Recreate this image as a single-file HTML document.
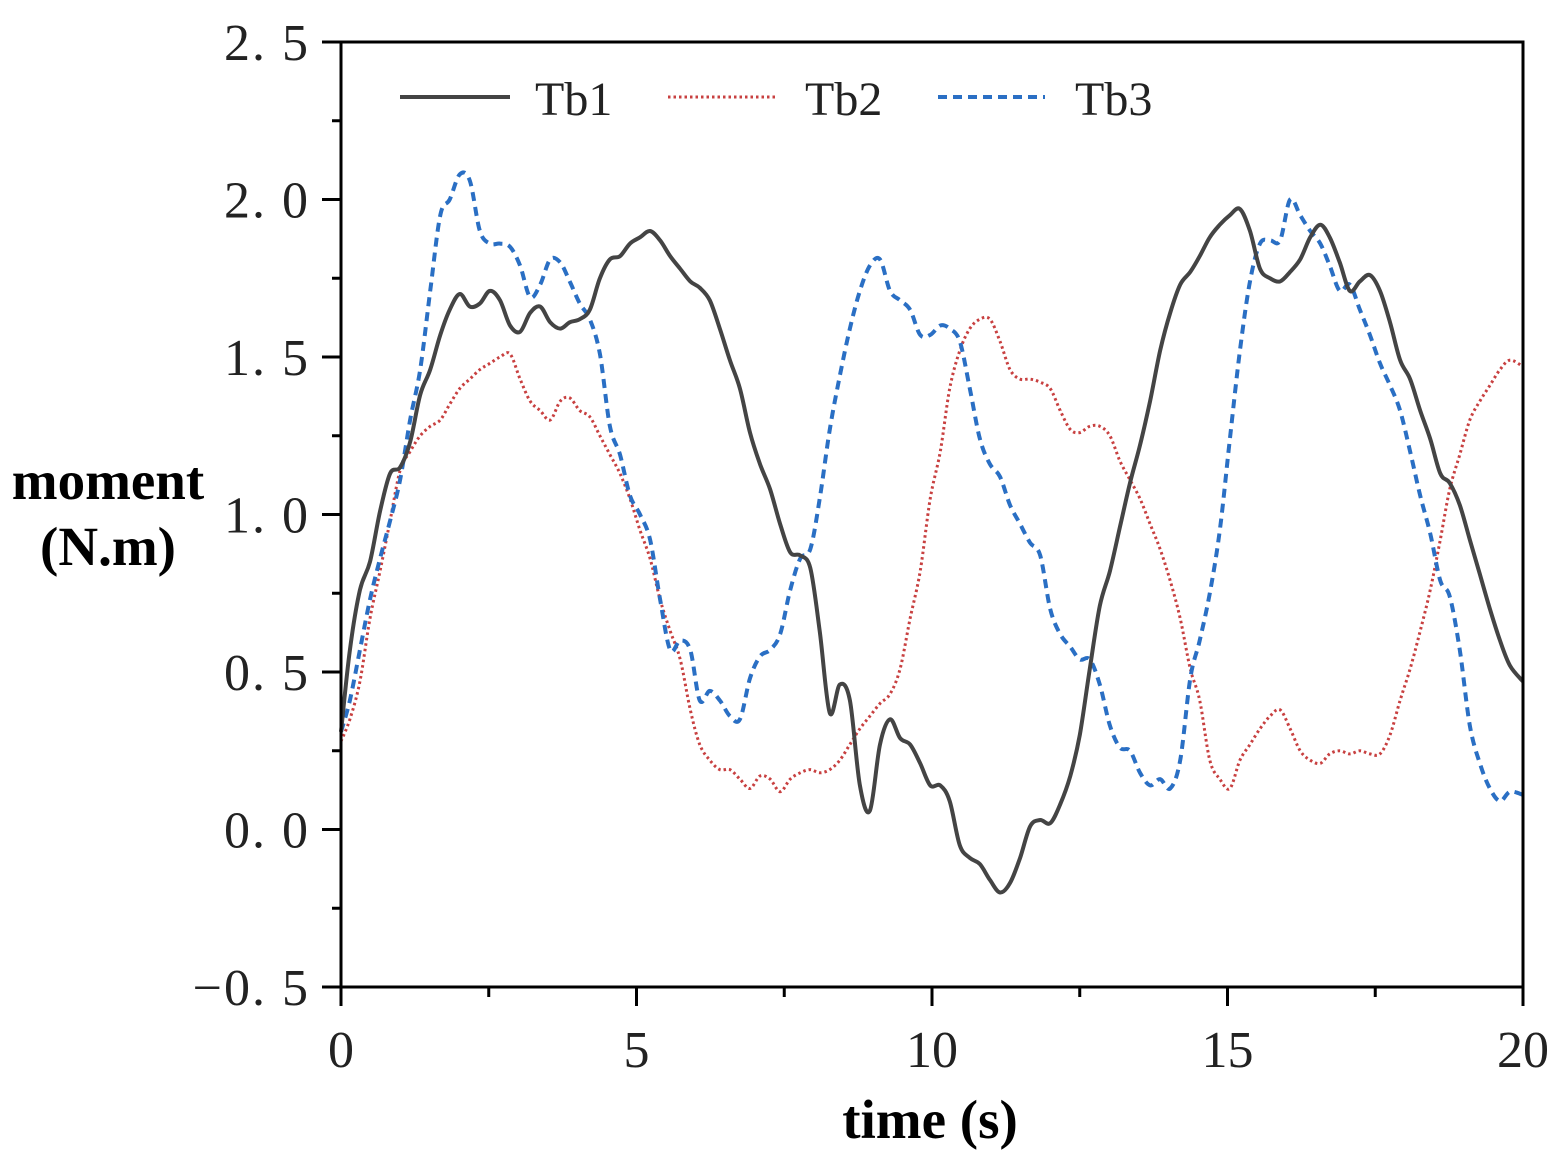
<!DOCTYPE html>
<html><head><meta charset="utf-8"><style>
html,body{margin:0;padding:0;background:#fff;}
svg{display:block;}
.tick{font-family:"Liberation Serif","Noto Serif CJK SC",serif;font-size:52px;fill:#222;}
.ytick{letter-spacing:2px;}
.leg{font-family:"Liberation Serif","Noto Serif CJK SC",serif;font-size:48px;fill:#222;}
.title{font-family:"Liberation Serif",serif;font-size:55px;font-weight:bold;fill:#000;}
</style></head><body>
<svg id="chart" width="1562" height="1164" viewBox="0 0 1562 1164" xmlns="http://www.w3.org/2000/svg">
<g id="plot"></g>
<g id="axes"></g>
<text class="title" x="108" y="499" text-anchor="middle">moment</text>
<text class="title" x="108" y="565" text-anchor="middle">(N.m)</text>
<text class="title" x="930" y="1138" text-anchor="middle">time (s)</text>
<g>
<line x1="400" y1="97" x2="510" y2="97" stroke="#444" stroke-width="4"/>
<text class="leg" x="535" y="115">Tb1</text>
<line x1="668" y1="97" x2="778" y2="97" stroke="#c84040" stroke-width="3" stroke-dasharray="2.5,3"/>
<text class="leg" x="805" y="115">Tb2</text>
<line x1="938" y1="97" x2="1045" y2="97" stroke="#2a6fc4" stroke-width="4" stroke-dasharray="9,6"/>
<text class="leg" x="1075" y="115">Tb3</text>
</g>
</svg>
<script>
const times=[0,0.15,0.32,0.49,0.66,0.83,1.00,1.17,1.34,1.51,1.68,1.84,2.01,2.18,2.35,2.52,2.69,2.86,3.03,3.20,3.37,3.54,3.71,3.87,4.04,4.21,4.38,4.55,4.72,4.89,5.06,5.23,5.40,5.57,5.74,5.91,6.07,6.24,6.41,6.58,6.75,6.92,7.09,7.26,7.43,7.60,7.77,7.94,8.10,8.27,8.44,8.61,8.78,8.95,9.12,9.29,9.46,9.63,9.80,9.97,10.14,10.30,10.47,10.64,10.81,10.98,11.15,11.32,11.49,11.66,11.83,12.00,12.17,12.34,12.50,12.67,12.84,13.01,13.18,13.35,13.52,13.69,13.86,14.03,14.20,14.37,14.53,14.70,14.87,15.04,15.21,15.38,15.55,15.72,15.89,16.06,16.23,16.40,16.57,16.73,16.90,17.07,17.24,17.41,17.58,17.75,17.92,18.09,18.26,18.43,18.60,18.76,18.93,19.10,19.27,19.44,19.61,19.78,20];
const tb1=[0.31,0.57,0.76,0.85,1.01,1.13,1.15,1.23,1.38,1.46,1.57,1.65,1.70,1.66,1.67,1.71,1.68,1.60,1.58,1.64,1.66,1.61,1.59,1.61,1.62,1.65,1.75,1.81,1.82,1.86,1.88,1.90,1.87,1.82,1.78,1.74,1.72,1.68,1.59,1.49,1.40,1.26,1.16,1.08,0.97,0.88,0.87,0.83,0.63,0.37,0.46,0.41,0.14,0.06,0.27,0.35,0.29,0.27,0.21,0.14,0.14,0.09,-0.05,-0.09,-0.11,-0.16,-0.20,-0.17,-0.09,0.01,0.03,0.02,0.08,0.17,0.30,0.51,0.71,0.82,0.96,1.10,1.22,1.36,1.52,1.64,1.73,1.77,1.82,1.88,1.92,1.95,1.97,1.90,1.78,1.75,1.74,1.77,1.81,1.88,1.92,1.88,1.80,1.71,1.74,1.76,1.71,1.61,1.49,1.43,1.33,1.24,1.13,1.10,1.03,0.92,0.81,0.70,0.60,0.52,0.47];
const tb2=[0.28,0.35,0.47,0.67,0.82,0.98,1.14,1.20,1.25,1.28,1.30,1.35,1.40,1.43,1.46,1.48,1.50,1.51,1.43,1.36,1.33,1.30,1.36,1.37,1.33,1.31,1.25,1.19,1.13,1.05,0.95,0.86,0.73,0.63,0.54,0.38,0.27,0.22,0.19,0.19,0.16,0.13,0.17,0.16,0.12,0.16,0.18,0.19,0.18,0.19,0.22,0.27,0.32,0.36,0.40,0.43,0.51,0.67,0.82,1.05,1.20,1.40,1.52,1.59,1.62,1.62,1.55,1.46,1.43,1.43,1.42,1.40,1.33,1.27,1.26,1.28,1.28,1.25,1.17,1.11,1.05,0.97,0.89,0.79,0.67,0.51,0.41,0.22,0.16,0.13,0.22,0.27,0.32,0.36,0.38,0.32,0.25,0.22,0.21,0.24,0.25,0.24,0.25,0.24,0.24,0.30,0.41,0.51,0.63,0.76,0.92,1.08,1.19,1.30,1.36,1.41,1.46,1.49,1.47];
const tb3=[0.31,0.41,0.57,0.73,0.86,0.98,1.11,1.30,1.46,1.71,1.95,2.00,2.08,2.06,1.90,1.86,1.86,1.85,1.79,1.69,1.73,1.81,1.80,1.74,1.67,1.62,1.51,1.28,1.19,1.06,1.00,0.92,0.73,0.57,0.60,0.57,0.41,0.44,0.41,0.36,0.35,0.48,0.55,0.57,0.62,0.76,0.86,0.89,1.05,1.27,1.44,1.59,1.71,1.79,1.81,1.71,1.68,1.65,1.57,1.57,1.60,1.59,1.55,1.40,1.24,1.16,1.12,1.03,0.97,0.91,0.87,0.70,0.62,0.58,0.54,0.54,0.46,0.33,0.26,0.25,0.18,0.14,0.16,0.13,0.22,0.48,0.60,0.75,0.95,1.24,1.52,1.74,1.86,1.87,1.87,2.00,1.95,1.90,1.86,1.79,1.71,1.73,1.65,1.57,1.48,1.41,1.33,1.20,1.06,0.94,0.79,0.74,0.57,0.33,0.21,0.13,0.09,0.12,0.11];
const yTicks=[-0.5,0.0,0.5,1.0,1.5,2.0,2.5];
const yTickLabels=["\u22120. 5","0. 0","0. 5","1. 0","1. 5","2. 0","2. 5"];
const xTicks=[0,5,10,15,20];
const xTickLabels=["0","5","10","15","20"];

const X0=341,X1=1523,Y0=987,Y1=42,XMIN=0,XMAX=20,YMIN=-0.5,YMAX=2.5;
function sx(t){return X0+(t-XMIN)/(XMAX-XMIN)*(X1-X0);}
function sy(v){return Y0-(v-YMIN)/(YMAX-YMIN)*(Y0-Y1);}
const NS="http://www.w3.org/2000/svg";
const plot=document.getElementById('plot'),axes=document.getElementById('axes');
function mk(tag,attrs,parent){const e=document.createElementNS(NS,tag);for(const k in attrs)e.setAttribute(k,attrs[k]);parent.appendChild(e);return e;}
function smooth(xs,ys){
  const p=xs.map((t,i)=>[sx(t),sy(ys[i])]);
  let d='M'+p[0][0].toFixed(1)+','+p[0][1].toFixed(1);
  for(let i=0;i<p.length-1;i++){
    const a=p[Math.max(0,i-1)],b=p[i],c=p[i+1],e=p[Math.min(p.length-1,i+2)];
    const c1=[b[0]+(c[0]-a[0])/6,b[1]+(c[1]-a[1])/6],c2=[c[0]-(e[0]-b[0])/6,c[1]-(e[1]-b[1])/6];
    d+='C'+c1[0].toFixed(1)+','+c1[1].toFixed(1)+' '+c2[0].toFixed(1)+','+c2[1].toFixed(1)+' '+c[0].toFixed(1)+','+c[1].toFixed(1);
  }
  return d;
}
const l2=mk('path',{d:smooth(times,tb2),fill:'none',stroke:'#c84040','stroke-width':3,'stroke-dasharray':'2.5,3'},plot);


const l3=mk('path',{d:smooth(times,tb3),fill:'none',stroke:'#2a6fc4','stroke-width':4,'stroke-dasharray':'9,6'},plot);


const l1=mk('path',{d:smooth(times,tb1),fill:'none',stroke:'#444','stroke-width':4},plot);



const frame=mk('rect',{x:X0,y:Y1,width:X1-X0,height:Y0-Y1,fill:'none',stroke:'#000','stroke-width':3},axes);


yTicks.forEach((v,i)=>{
  const y=sy(v);
  const tk=mk('line',{x1:X0-19,y1:y,x2:X0,y2:y,stroke:'#000','stroke-width':3},axes);
  
  
  const tl=mk('text',{x:310,y:y+18,'text-anchor':'end','class':'tick ytick'},axes);
  tl.textContent=yTickLabels[i];
  
  
  if(i<yTicks.length-1){
    const ym=sy(v+0.25);
    const mt=mk('line',{x1:X0-9,y1:ym,x2:X0,y2:ym,stroke:'#000','stroke-width':3},axes);
    
    
  }
});
xTicks.forEach((t,i)=>{
  const x=sx(t);
  const tk=mk('line',{x1:x,y1:Y0,x2:x,y2:Y0+19,stroke:'#000','stroke-width':3},axes);
  
  
  const tl=mk('text',{x:x,y:1067,'text-anchor':'middle','class':'tick'},axes);
  tl.textContent=xTickLabels[i];
  
  
  if(i<xTicks.length-1){
    const xm=sx(t+2.5);
    const mt=mk('line',{x1:xm,y1:Y0,x2:xm,y2:Y0+10,stroke:'#000','stroke-width':3},axes);
    
    
  }
});
</script>
</body></html>
